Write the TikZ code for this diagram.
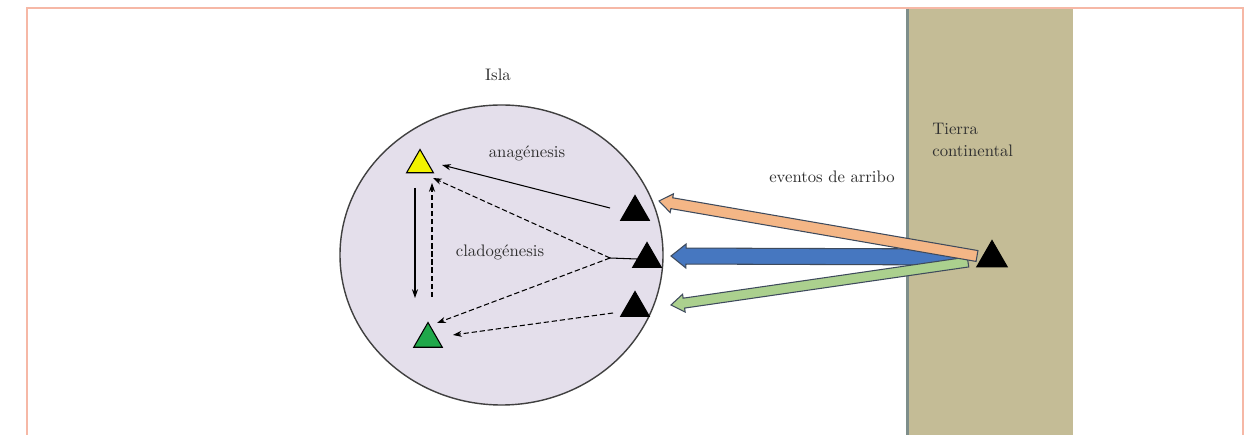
\documentclass[tikz,border=0pt]{standalone}
\usetikzlibrary{calc,arrows.meta,shapes.geometric}
\definecolor{framec}{HTML}{F6B8A6}
\definecolor{landc}{HTML}{C4BC96}
\definecolor{landedge}{HTML}{7E8E8A}
\definecolor{islc}{HTML}{E4DFEB}
\definecolor{orangec}{HTML}{F4B686}
\definecolor{bluec}{HTML}{4677C0}
\definecolor{greenc}{HTML}{ABD08E}
\definecolor{arrowedge}{HTML}{3E4A5C}
\definecolor{txt}{HTML}{303030}
\definecolor{yelc}{HTML}{F2F200}
\definecolor{grnc}{HTML}{1FA84A}
\newcommand\fatarr[6]{%
  \coordinate (fh) at ($(#2)!#6!(#1)$);
  \filldraw[fill=#3, draw=arrowedge, line width=0.6pt, line join=miter]
    ($(#1)!#4!90:(#2)$) -- ($(fh)!#4!-90:(#1)$) -- ($(fh)!#5!-90:(#1)$) -- (#2)
    -- ($(fh)!#5!90:(#1)$) -- ($(fh)!#4!90:(#1)$) -- ($(#1)!#4!-90:(#2)$) -- cycle;}
\tikzset{
  tri/.style={regular polygon, regular polygon sides=3, inner sep=0pt, draw=black, line width=0.6pt, minimum size=0.66cm},
  lbl/.style={text=txt, font=\fontsize{9.5}{11.5}\selectfont, inner sep=0pt},
  thin arrow/.style={-{Stealth[length=5pt,width=3.5pt]}, line width=0.6pt, black},
  dash arrow/.style={thin arrow, dash pattern=on 3pt off 1.6pt}
}
\begin{document}
\begin{tikzpicture}[x=0.02cm,y=-0.02cm]
\useasboundingbox (0,0) rectangle (1255,435);
\fill[white] (0,0) rectangle (1255,435);
% frame
\draw[framec, line width=1.1pt] (27,435) -- (27,8) -- (1243,8) -- (1243,435);
% mainland
\fill[landc] (907,8.6) rectangle (1073,435);
\draw[landedge, line width=1.4pt] (907.5,8.6) -- (907.5,435);
% island
\draw[fill=islc, draw=black!75, line width=0.8pt] (501.5,255) ellipse [x radius=161.5, y radius=150];
\node[lbl] (isla) at (498,75) {Isla};
\node[lbl] (ana) at (527,153) {anagénesis};
\node[lbl] (clado) at (500,252) {cladogénesis};
\node[lbl] (arr) at (832,177) {eventos de arribo};
\node[lbl, align=left, anchor=north west] (tierra) at (932,123) {Tierra\\[1pt]continental};
% triangles
\node[tri, fill=yelc, minimum size=0.62cm] (Y) at (420,165) {};
\node[tri, fill=grnc] (G) at (428,339) {};
\node[tri, fill=black] (b1) at (635,212) {};
\node[tri, fill=black] (b2) at (647,259) {};
\node[tri, fill=black] (b3) at (635,308) {};
\node[tri, fill=black, minimum size=0.7cm] (M) at (992,258) {};
% island arrows
\coordinate (J) at (610,258);
\draw[thin arrow] ($(b1)+(-25,-4)$) -- ($(Y)+(22,0)$);
\draw[line width=0.6pt] (J) -- (b2.west);
\draw[dash arrow] (J) -- ($(Y)+(13,13)$);
\draw[dash arrow] (J) -- ($(G)+(9,-16)$);
\draw[dash arrow] ($(b3)+(-22,5)$) -- ($(G)+(25,-4)$);
\draw[thin arrow] ($(Y)+(-5,23)$) -- ($(G)+(-13,-41)$);
\draw[dash arrow] ($(G)+(4,-42)$) -- ($(Y)+(12,18)$);
% arrival arrows
\coordinate (gt) at (968,262);
\coordinate (gh) at (671,305);
\coordinate (bt) at (962,257);
\coordinate (bh) at (671,256);
\coordinate (ot) at (977,256);
\coordinate (oh) at (659,201);
\fatarr{bt}{bh}{bluec}{0.16cm}{0.24cm}{0.3cm}
\fatarr{gt}{gh}{greenc}{0.1cm}{0.18cm}{0.26cm}
\fatarr{ot}{oh}{orangec}{0.11cm}{0.19cm}{0.26cm}
\end{tikzpicture}
\end{document}
